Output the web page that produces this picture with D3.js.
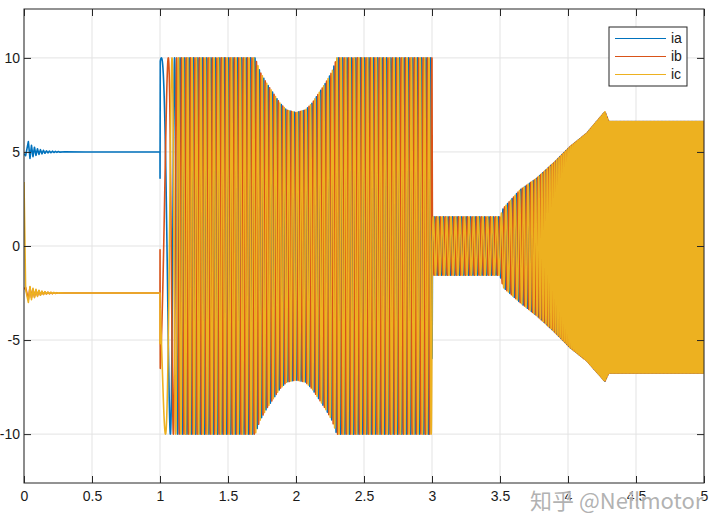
<!DOCTYPE html>
<html>
<head>
<meta charset="utf-8">
<script src="https://cdn.jsdelivr.net/npm/d3@7"></script>
<style>
  html, body { margin: 0; padding: 0; background: #fff; }
  svg { display: block; }
  text { font-family: "Liberation Sans", Arial, sans-serif; }
</style>
</head>
<body>
<svg id="chart" width="720" height="530"></svg>
<script>
// ---------------- data ----------------
const seriesNames = ["ia", "ib", "ic"];
const seriesColors = ["#0072BD", "#D95319", "#EDB120"];
const xTicks = [0, 0.5, 1, 1.5, 2, 2.5, 3, 3.5, 4, 4.5, 5];
const yTicks = [-10, -5, 0, 5, 10];

// start-up ringing (0 .. 1 s), DC state
const ringT  = [0, 0.012, 0.032, 0.044, 0.055, 0.066, 0.077, 0.088, 0.099, 0.110, 0.121, 0.132, 0.143, 0.154, 0.165, 0.176, 0.187, 0.198, 0.209, 0.220, 0.231, 0.242, 0.253, 0.264, 0.30, 0.45, 1.0];
const ringIa = [4.9, 4.8, 5.55, 4.66, 5.35, 4.75, 5.25, 4.82, 5.17, 4.87, 5.12, 4.9, 5.09, 4.93, 5.06, 4.95, 5.05, 4.96, 5.04, 4.97, 5.03, 4.98, 5.02, 4.99, 5.01, 5.0, 5.0];
const ringIb = [-2.3, -2.2, -2.85, -2.2, -2.75, -2.3, -2.7, -2.35, -2.64, -2.38, -2.6, -2.42, -2.57, -2.44, -2.55, -2.46, -2.54, -2.47, -2.53, -2.48, -2.52, -2.49, -2.51, -2.5, -2.5, -2.5, -2.5];
const ringIc = [3.4, -2.3, -3.0, -2.15, -2.85, -2.25, -2.75, -2.3, -2.68, -2.35, -2.62, -2.4, -2.58, -2.43, -2.55, -2.45, -2.54, -2.46, -2.53, -2.47, -2.52, -2.48, -2.51, -2.49, -2.5, -2.5, -2.5];

// step at t = 1 s
const stepT  = [1.0, 1.0003];
const stepIa = [5.0, 3.6];
const stepIb = [-2.5, -0.2];
const stepIc = [-2.5, -5.2];

// oscillation envelope after the step
const envT   = [1.0, 1.70, 1.735, 1.784, 1.833, 1.882, 1.931, 2.0, 2.069, 2.118, 2.167, 2.216, 2.265, 2.30, 3.0, 3.003, 3.5, 3.524, 3.647, 3.77, 3.892, 4.015, 4.137, 4.272, 4.30, 5.0];
const envTop = [10, 10, 9.27, 8.65, 8.12, 7.59, 7.23, 7.09, 7.23, 7.59, 8.12, 8.65, 9.27, 10, 10, 1.55, 1.55, 2.0, 2.98, 3.6, 4.4, 5.28, 5.99, 7.14, 6.62, 6.62];
const envBot = [-10, -10, -9.27, -8.65, -8.12, -7.59, -7.23, -7.12, -7.23, -7.59, -8.12, -8.65, -9.27, -10, -10, -1.55, -1.55, -2.2, -3.0, -3.7, -4.5, -5.4, -6.1, -7.2, -6.75, -6.75];

// oscillation frequency (Hz) read from stripe spacing
const freqT  = [1.0, 1.03, 1.06, 1.10, 1.14, 1.2, 3.0, 3.5, 3.7, 4.2, 5.0];
const freqHz = [3, 6, 9, 18, 28, 31, 31, 29, 32, 100, 100];

// ---------------- build ----------------
const svg = d3.select("#chart");
const x = d3.scaleLinear().domain([0, 5]).range([24, 704]);
const y = d3.scaleLinear().domain([-12.6, 12.6]).range([483, 9]);

const fEnvTop = d3.scaleLinear().domain(envT).range(envTop).clamp(true);
const fEnvBot = d3.scaleLinear().domain(envT).range(envBot).clamp(true);
const fFreq = d3.scaleLinear().domain(freqT).range(freqHz).clamp(true);

const t0 = 1.002, dt = 1 / 6000;
const tt = [], ph = [];
let p = 0;
for (let t = t0; t <= 5.00001; t += dt) { tt.push(t); ph.push(p); p += 2 * Math.PI * fFreq(t) * dt; }
const refIdx = d3.bisectLeft(tt, 1.01);
const pRef = ph[refIdx];
const offsets = [0, -2 * Math.PI / 3, 2 * Math.PI / 3];
const ringSets = [ringIa, ringIb, ringIc];
const stepSets = [stepIa, stepIb, stepIc];

const series = seriesNames.map((name, k) => {
  const pts = ringT.map((t, i) => [t, ringSets[k][i]]);
  stepT.forEach((t, i) => pts.push([t, stepSets[k][i]]));
  tt.forEach((t, i) => {
    const hi = fEnvTop(t), lo = fEnvBot(t);
    const mid = (hi + lo) / 2, half = (hi - lo) / 2;
    pts.push([t, mid + half * Math.cos(ph[i] - pRef + offsets[k])]);
  });
  return { name, color: seriesColors[k], pts };
});

const gridG = svg.append("g");
gridG.selectAll("line.gx").data(xTicks).join("line").attr("class", "gx")
  .attr("x1", d => x(d)).attr("x2", d => x(d)).attr("y1", y(12.6)).attr("y2", y(-12.6))
  .attr("stroke", "#e3e3e3").attr("stroke-width", 1);
gridG.selectAll("line.gy").data(yTicks).join("line").attr("class", "gy")
  .attr("y1", d => y(d)).attr("y2", d => y(d)).attr("x1", x(0)).attr("x2", x(5))
  .attr("stroke", "#e3e3e3").attr("stroke-width", 1);

svg.append("clipPath").attr("id", "clip").append("rect")
  .attr("x", x(0)).attr("y", y(12.6)).attr("width", x(5) - x(0)).attr("height", y(-12.6) - y(12.6));

const lineGen = d3.line().x(d => x(d[0])).y(d => y(d[1]));
svg.append("g").attr("clip-path", "url(#clip)")
  .selectAll("path").data(series).join("path")
  .attr("d", d => lineGen(d.pts))
  .attr("fill", "none").attr("stroke", d => d.color).attr("stroke-width", 1.6)
  .attr("stroke-linejoin", "round");

const axisColor = "#262626";
svg.append("rect").attr("x", x(0)).attr("y", y(12.6)).attr("width", x(5) - x(0)).attr("height", y(-12.6) - y(12.6))
  .attr("fill", "none").attr("stroke", axisColor).attr("stroke-width", 1);

const fmt = d => String(d);   // plain hyphen minus, as in the reference
const axB = svg.append("g").attr("transform", `translate(0,${y(-12.6)})`)
  .call(d3.axisBottom(x).tickValues(xTicks).tickFormat(fmt).tickSizeInner(-7).tickSizeOuter(0).tickPadding(8));
const axL = svg.append("g").attr("transform", `translate(${x(0)},0)`)
  .call(d3.axisLeft(y).tickValues(yTicks).tickFormat(fmt).tickSizeInner(-7).tickSizeOuter(0).tickPadding(4));
const axT = svg.append("g").attr("transform", `translate(0,${y(12.6)})`)
  .call(d3.axisTop(x).tickValues(xTicks).tickFormat("").tickSizeInner(-7).tickSizeOuter(0));
const axR = svg.append("g").attr("transform", `translate(${x(5)},0)`)
  .call(d3.axisRight(y).tickValues(yTicks).tickFormat("").tickSizeInner(-7).tickSizeOuter(0));
[axB, axL, axT, axR].forEach(g => {
  g.select(".domain").remove();
  g.selectAll("line").attr("stroke", axisColor);
  g.selectAll("text").attr("fill", "#1a1a1a").style("font-size", "14px")
    .style("font-family", "'Liberation Sans', Arial, sans-serif");
});

const lg = svg.append("g");
lg.append("rect").attr("x", 609).attr("y", 27).attr("width", 78).attr("height", 59)
  .attr("fill", "#fff").attr("stroke", axisColor).attr("stroke-width", 1);
const rows = lg.selectAll("g.row").data(series).join("g").attr("class", "row")
  .attr("transform", (d, i) => `translate(0,${38.5 + i * 18})`);
rows.append("line").attr("x1", 615).attr("x2", 666).attr("y1", 0).attr("y2", 0)
  .attr("stroke", d => d.color).attr("stroke-width", 1.2);
rows.append("text").attr("x", 671).attr("y", 0).attr("dy", "0.35em")
  .style("font-size", "14px").attr("fill", "#1a1a1a").text(d => d.name);

svg.append("text").attr("x", 530).attr("y", 509)
  .style("font-family", "'Noto Sans CJK SC', 'Noto Sans', sans-serif").style("font-size", "22px")
  .attr("fill", "#a4a4a4").attr("fill-opacity", 0.85)
  .attr("stroke", "#ffffff").attr("stroke-width", 2).attr("stroke-opacity", 0.7).attr("paint-order", "stroke")
  .text("知乎 @Neilmotor");
</script>
</body>
</html>
